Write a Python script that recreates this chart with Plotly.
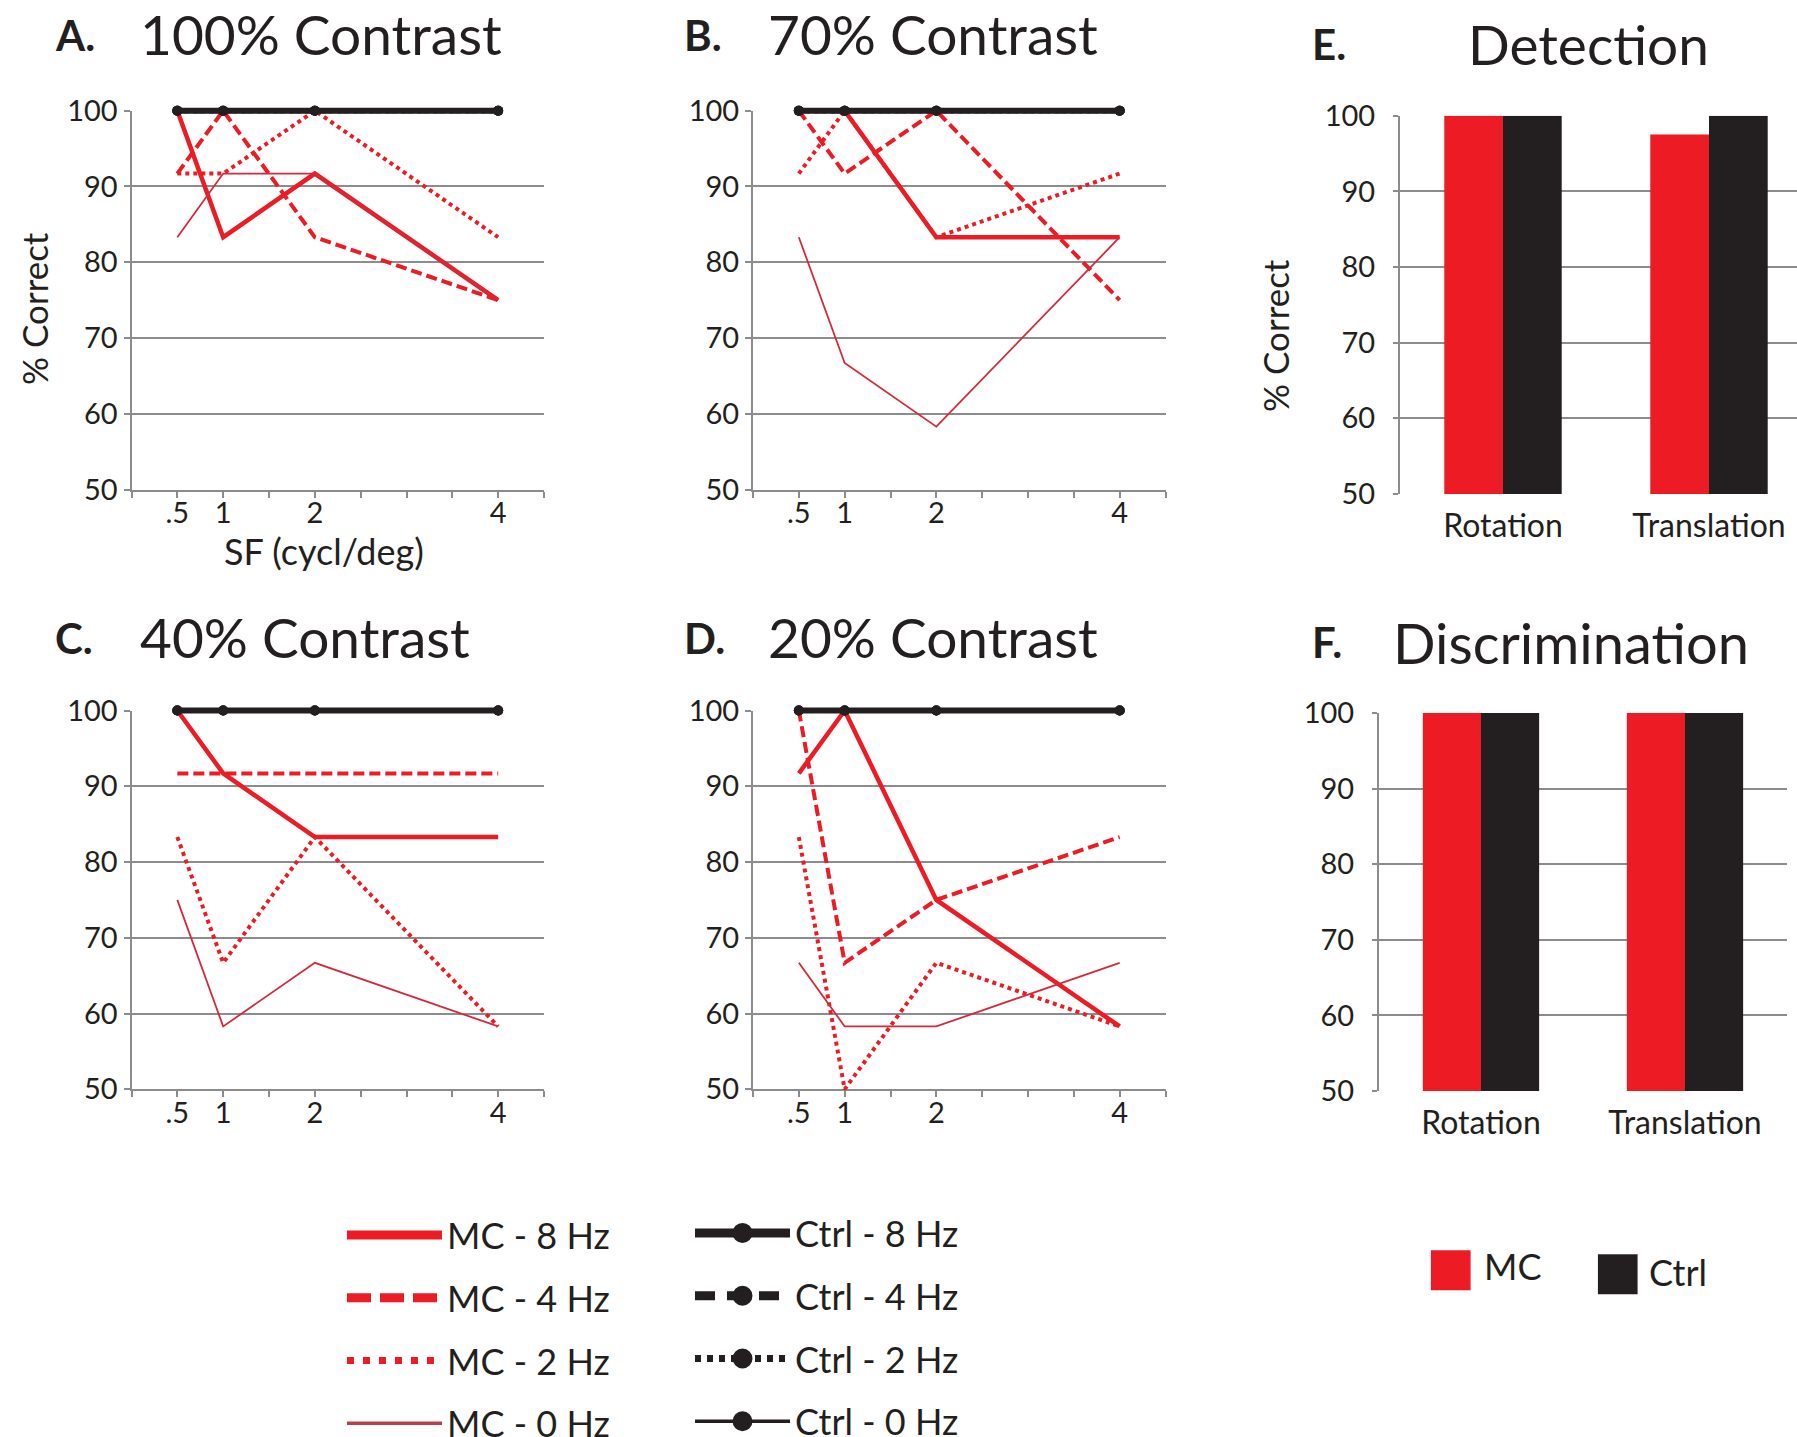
import plotly.graph_objects as go

W, H = 1797, 1437
FONT = 'Lato'
TEXT = '#231F20'
RED = '#ED1C24'
RED_THIN = '#D42A3A'
RED_LEG0 = '#B8404E'
BLACK = '#231F20'
GRID = '#8C8C8C'

# ---------------- data ----------------
SF = [0.5, 1, 2, 4]
SF_TICKS = [0, 0.5, 1, 1.5, 2, 2.5, 3, 3.5, 4, 4.5]
SF_TICK_LABELS = ['', '.5', '1', '', '2', '', '', '', '4', '']
PCT_TICKS = [50, 60, 70, 80, 90, 100]

CONTRASTS = ['100% Contrast', '70% Contrast', '40% Contrast', '20% Contrast']
LETTERS = ['A.', 'B.', 'C.', 'D.']
MC_NAMES = ['MC - 8 Hz', 'MC - 4 Hz', 'MC - 2 Hz', 'MC - 0 Hz']
CTRL_NAMES = ['Ctrl - 8 Hz', 'Ctrl - 4 Hz', 'Ctrl - 2 Hz', 'Ctrl - 0 Hz']

# % correct, MC group (rows: 8, 4, 2, 0 Hz; columns: SF .5, 1, 2, 4)
mc8_100 = [100, 83.3, 91.7, 75]
mc4_100 = [91.7, 100, 83.3, 75]
mc2_100 = [91.7, 91.7, 100, 83.3]
mc0_100 = [83.3, 91.7, 91.7, 75]

mc8_70 = [100, 100, 83.3, 83.3]
mc4_70 = [100, 91.7, 100, 75]
mc2_70 = [91.7, 100, 83.3, 91.7]
mc0_70 = [83.3, 66.7, 58.3, 83.3]

mc8_40 = [100, 91.7, 83.3, 83.3]
mc4_40 = [91.7, 91.7, 91.7, 91.7]
mc2_40 = [83.3, 66.7, 83.3, 58.3]
mc0_40 = [75, 58.3, 66.7, 58.3]

mc8_20 = [91.7, 100, 75, 58.3]
mc4_20 = [100, 66.7, 75, 83.3]
mc2_20 = [83.3, 50, 66.7, 58.3]
mc0_20 = [66.7, 58.3, 58.3, 66.7]

# % correct, control group (same for every contrast)
ctrl8 = [100, 100, 100, 100]
ctrl4 = [100, 100, 100, 100]
ctrl2 = [100, 100, 100, 100]
ctrl0 = [100, 100, 100, 100]

MC_DATA = [
    [mc8_100, mc4_100, mc2_100, mc0_100],
    [mc8_70, mc4_70, mc2_70, mc0_70],
    [mc8_40, mc4_40, mc2_40, mc0_40],
    [mc8_20, mc4_20, mc2_20, mc0_20],
]
CTRL_DATA = [ctrl8, ctrl4, ctrl2, ctrl0]

TASKS = ['Rotation', 'Translation']
detection_mc = [100, 97.5]
detection_ctrl = [100, 100]
discrimination_mc = [100, 100]
discrimination_ctrl = [100, 100]

# ---------------- styles ----------------
MC_STYLE = [
    dict(color=RED, width=4.5, dash='solid'),
    dict(color=RED, width=4, dash='11px,5px'),
    dict(color=RED, width=4, dash='4px,4px'),
    dict(color=RED_THIN, width=1.8, dash='solid'),
]
CTRL_STYLE = [
    dict(color=BLACK, width=6, dash='solid'),
    dict(color=BLACK, width=5, dash='11px,5px'),
    dict(color=BLACK, width=5, dash='4px,4px'),
    dict(color=BLACK, width=2, dash='solid'),
]
MC_LEG_STYLE = [
    dict(color=RED, width=9, dash='solid'),
    dict(color=RED, width=9, dash='24px,9px'),
    dict(color=RED, width=7, dash='7px,9px'),
    dict(color=RED_LEG0, width=3.5, dash='solid'),
]
CTRL_LEG_STYLE = [
    dict(color=BLACK, width=9, dash='solid'),
    dict(color=BLACK, width=9, dash='20px,12px'),
    dict(color=BLACK, width=7, dash='6px,6px'),
    dict(color=BLACK, width=3.5, dash='solid'),
]

# panel geometry in pixels: (left, right, top(=100), bottom(=50))
LINE_PANELS = [
    (131.5, 544.0, 110.7, 489.5),
    (753.0, 1165.5, 110.7, 489.5),
    (131.5, 544.0, 710.5, 1089.3),
    (753.0, 1165.5, 710.5, 1089.3),
]
E_BOX = (1400.0, 1797.0, 115.7, 494.0)
F_BOX = (1379.0, 1787.0, 713.0, 1091.0)


def xd(a, b):
    return [a / W, b / W]


def yd(top, bottom):
    return [1 - bottom / H, 1 - top / H]


fig = go.Figure()
layout_axes = {}

tickfont = dict(family=FONT, size=29, color=TEXT)

# dummy traces so the grid subplots are drawn beneath the data subplots
for i in range(4):
    fig.add_trace(go.Scatter(x=[None], y=[None], xaxis=f'x{i+1}', yaxis=f'y{i+1}',
                             showlegend=False, hoverinfo='skip'))

for i, (l, r, t, b) in enumerate(LINE_PANELS):
    n = i + 1
    dn = i + 7
    ppu = (b - t) / 50.0
    ext_t, ext_b = 12.0, 6.0
    layout_axes[f'xaxis{n}'] = dict(
        domain=xd(l, r), range=[0, 4.5], anchor=f'y{n}',
        tickmode='array', tickvals=SF_TICKS, ticktext=SF_TICK_LABELS,
        ticks='outside', ticklen=6, tickwidth=2, tickcolor=GRID,
        showline=True, linecolor=GRID, linewidth=2, ticklabelstandoff=-9,
        showgrid=False, zeroline=False, tickfont=tickfont, fixedrange=True)
    layout_axes[f'yaxis{n}'] = dict(
        domain=yd(t, b), range=[50, 100], anchor=f'x{n}',
        tickmode='array', tickvals=PCT_TICKS,
        ticks='outside', ticklen=6, tickwidth=2, tickcolor=GRID,
        showline=True, linecolor=GRID, linewidth=2,
        showgrid=True, gridcolor=GRID, gridwidth=2,
        zeroline=False, tickfont=tickfont, fixedrange=True)
    layout_axes[f'yaxis{dn}'] = dict(
        domain=yd(t - ext_t, b + ext_b),
        range=[50 - ext_b / ppu, 100 + ext_t / ppu],
        anchor=f'x{n}', visible=False, showgrid=False, zeroline=False, fixedrange=True)

    for k in range(4):
        fig.add_trace(go.Scatter(
            x=SF, y=MC_DATA[i][k], mode='lines', line=MC_STYLE[k],
            xaxis=f'x{n}', yaxis=f'y{dn}', showlegend=False, hoverinfo='skip'))
    for k in [3, 2, 1, 0]:
        fig.add_trace(go.Scatter(
            x=SF, y=CTRL_DATA[k], mode='lines+markers', line=CTRL_STYLE[k],
            marker=dict(color=BLACK, size=10),
            xaxis=f'x{n}', yaxis=f'y{dn}', showlegend=False, hoverinfo='skip'))

# bar panels
for n, box, mc, ctrl, unit in [(5, E_BOX, detection_mc, detection_ctrl, 206.0),
                               (6, F_BOX, discrimination_mc, discrimination_ctrl, 204.0)]:
    l, r, t, b = box
    layout_axes[f'xaxis{n}'] = dict(
        domain=xd(l, r), range=[-0.5, -0.5 + (r - l) / unit], anchor=f'y{n}',
        type='category', ticks='', showline=False, showgrid=False, zeroline=False,
        tickfont=dict(family=FONT, size=32, color=TEXT), ticklabelstandoff=10,
        fixedrange=True)
    layout_axes[f'yaxis{n}'] = dict(
        domain=yd(t, b), range=[50, 100], anchor=f'x{n}',
        tickmode='array', tickvals=PCT_TICKS,
        ticks='outside', ticklen=5, tickwidth=2, tickcolor=GRID,
        showline=True, linecolor=GRID, linewidth=2,
        showgrid=True, gridcolor=GRID, gridwidth=2, zeroline=False,
        tickfont=tickfont, ticklabelstandoff=12, fixedrange=True)
    fig.add_trace(go.Bar(x=TASKS, y=mc, name='MC', marker=dict(color=RED, line=dict(width=0)),
                         xaxis=f'x{n}', yaxis=f'y{n}', showlegend=False, hoverinfo='skip'))
    fig.add_trace(go.Bar(x=TASKS, y=ctrl, name='Ctrl', marker=dict(color=BLACK, line=dict(width=0)),
                         xaxis=f'x{n}', yaxis=f'y{n}', showlegend=False, hoverinfo='skip'))

# legend entries for the line panels
for k in range(4):
    fig.add_trace(go.Scatter(
        x=[None], y=[None], mode='lines', line=MC_LEG_STYLE[k], name=MC_NAMES[k],
        legend='legend', legendgroup=f'mc{k}', xaxis='x1', yaxis='y7', hoverinfo='skip'))
for k in range(4):
    fig.add_trace(go.Scatter(
        x=[None], y=[None], mode='lines+markers', line=CTRL_LEG_STYLE[k],
        marker=dict(color=BLACK, size=16, line=dict(color=BLACK, width=4)), name=CTRL_NAMES[k],
        legend='legend2', legendgroup=f'ctrl{k}', xaxis='x1', yaxis='y7', hoverinfo='skip'))

annotations = []


def ann(text, xpx, ypx, size, xanchor='left', yanchor='middle', angle=0):
    annotations.append(dict(
        text=text, x=xpx / W, y=1 - ypx / H, xref='paper', yref='paper',
        xanchor=xanchor, yanchor=yanchor, showarrow=False, textangle=angle,
        font=dict(family=FONT, size=size, color=TEXT)))


# panel titles
title_pos = [(53, 138, 34), (682, 766, 34), (53, 138, 637), (682, 766, 637)]
for (lx, tx, ty), letter, title in zip(title_pos, LETTERS, CONTRASTS):
    ann(f'<b>{letter}</b>', lx, ty + 1, 42)
    ann(title, tx, ty, 55)
ann('<b>E.</b>', 1310, 44, 42)
ann('Detection', 1466, 44, 55)
ann('<b>F.</b>', 1310, 642, 42)
ann('Discrimination', 1391, 642, 56)

# axis titles
ann('% Correct', 34, 309, 35, xanchor='center', angle=-90)
ann('% Correct', 1275, 336, 35, xanchor='center', angle=-90)
ann('SF (cycl/deg)', 324, 551, 36, xanchor='center')

# bar legend
annotations.append(dict(
    text=f"<span style='color:{RED}'>■</span>", x=1450 / W, y=1 - 1266 / H,
    xref='paper', yref='paper', xanchor='center', yanchor='middle', showarrow=False,
    font=dict(family='DejaVu Sans', size=52, color=RED)))
ann('MC', 1482, 1266, 36)
annotations.append(dict(
    text=f"<span style='color:{BLACK}'>■</span>", x=1617 / W, y=1 - 1270 / H,
    xref='paper', yref='paper', xanchor='center', yanchor='middle', showarrow=False,
    font=dict(family='DejaVu Sans', size=52, color=BLACK)))
ann('Ctrl', 1647, 1272, 36)

leg_common = dict(
    orientation='v', xanchor='left', yanchor='top', bgcolor='rgba(0,0,0,0)',
    font=dict(family=FONT, size=36, color=TEXT), itemwidth=95,
    traceorder='grouped', tracegroupgap=13, itemclick=False, itemdoubleclick=False)

fig.update_layout(
    width=W, height=H, margin=dict(l=0, r=0, t=0, b=0, pad=0, autoexpand=False),
    paper_bgcolor='white', plot_bgcolor='rgba(0,0,0,0)',
    barmode='group', bargap=0.43, bargroupgap=0,
    showlegend=True,
    legend=dict(x=342 / W, y=1 - 1205 / H, **leg_common),
    legend2=dict(x=690 / W, y=1 - 1203 / H, **leg_common),
    annotations=annotations,
    **layout_axes,
)

fig.write_html('out.html')
